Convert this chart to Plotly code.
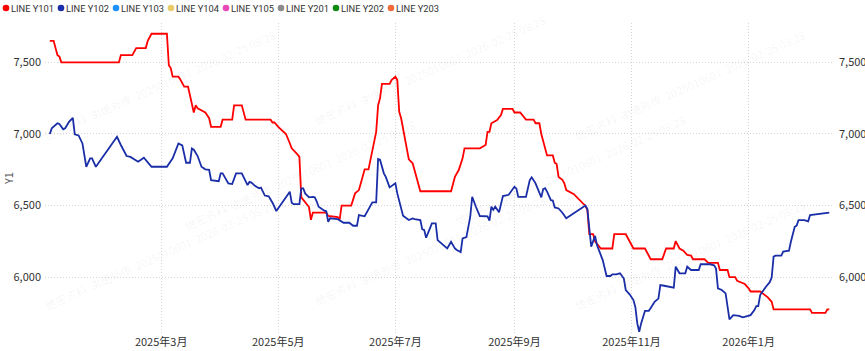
import plotly.graph_objects as go

# ---------------- data ----------------
series_names = ["LINE Y101", "LINE Y102", "LINE Y103", "LINE Y104",
                "LINE Y105", "LINE Y201", "LINE Y202", "LINE Y203"]
series_colors = ["#ff0000", "#1a2ea8", "#1e90ff", "#e8cc6a",
                 "#e84bb8", "#8c8c8c", "#118a11", "#f06a3a"]

red_dates = [
    "2025-01-02", "2025-01-04", "2025-01-06", "2025-01-07", "2025-01-08", "2025-02-07", "2025-02-08",
    "2025-02-14", "2025-02-16", "2025-02-21", "2025-02-22", "2025-02-24", "2025-03-04", "2025-03-05",
    "2025-03-06", "2025-03-07", "2025-03-10", "2025-03-11", "2025-03-13", "2025-03-15", "2025-03-16",
    "2025-03-17", "2025-03-18", "2025-03-19", "2025-03-20", "2025-03-24", "2025-03-26", "2025-03-27",
    "2025-04-01", "2025-04-02", "2025-04-07", "2025-04-08", "2025-04-12", "2025-04-14", "2025-04-27",
    "2025-04-28", "2025-04-29", "2025-05-01", "2025-05-05", "2025-05-07", "2025-05-08", "2025-05-11",
    "2025-05-12", "2025-05-13", "2025-05-14", "2025-05-16", "2025-05-17", "2025-05-18", "2025-05-19",
    "2025-05-26", "2025-05-27", "2025-06-01", "2025-06-02", "2025-06-03", "2025-06-08", "2025-06-10",
    "2025-06-12", "2025-06-13", "2025-06-15", "2025-06-17", "2025-06-18", "2025-06-21", "2025-06-22",
    "2025-06-23", "2025-06-24", "2025-06-28", "2025-06-29", "2025-07-01", "2025-07-02", "2025-07-03",
    "2025-07-04", "2025-07-07", "2025-07-08", "2025-07-10", "2025-07-12", "2025-07-14", "2025-07-30",
    "2025-08-01", "2025-08-03", "2025-08-05", "2025-08-06", "2025-08-14", "2025-08-17", "2025-08-18",
    "2025-08-19", "2025-08-20", "2025-08-23", "2025-08-25", "2025-08-26", "2025-08-31", "2025-09-01",
    "2025-09-04", "2025-09-07", "2025-09-11", "2025-09-12", "2025-09-14", "2025-09-15", "2025-09-16",
    "2025-09-18", "2025-09-21", "2025-09-22", "2025-09-23", "2025-09-24", "2025-09-26", "2025-09-27",
    "2025-09-28", "2025-10-02", "2025-10-08", "2025-10-09", "2025-10-10", "2025-10-12", "2025-10-13",
    "2025-10-16", "2025-10-22", "2025-10-23", "2025-10-29", "2025-10-31", "2025-11-02", "2025-11-08",
    "2025-11-09", "2025-11-10", "2025-11-11", "2025-11-17", "2025-11-19", "2025-11-23", "2025-11-24",
    "2025-11-26", "2025-11-28", "2025-11-30", "2025-12-02", "2025-12-03", "2025-12-09", "2025-12-11",
    "2025-12-16", "2025-12-17", "2025-12-21", "2025-12-22", "2025-12-25", "2025-12-26", "2025-12-30",
    "2026-01-01", "2026-01-02", "2026-01-07", "2026-01-11", "2026-01-13", "2026-01-14", "2026-02-02",
    "2026-02-03", "2026-02-10", "2026-02-11", "2026-02-12",
]
red_values = [
    7650, 7650, 7550, 7540, 7500, 7500, 7550,
    7550, 7600, 7600, 7650, 7700, 7700, 7480,
    7460, 7400, 7400, 7380, 7330, 7330, 7270,
    7220, 7150, 7200, 7180, 7150, 7110, 7050,
    7050, 7100, 7100, 7200, 7200, 7100, 7100,
    7080, 7080, 7050, 7000, 6935, 6900, 6857,
    6840, 6557, 6540, 6510, 6490, 6400, 6450,
    6450, 6427, 6420, 6404, 6500, 6500, 6585,
    6608, 6655, 6753, 6753, 6818, 7015, 7200,
    7249, 7350, 7350, 7376, 7400, 7376, 7155,
    7110, 6911, 6823, 6795, 6700, 6600, 6600,
    6700, 6748, 6830, 6900, 6900, 6923, 7015,
    7015, 7075, 7097, 7132, 7175, 7175, 7150,
    7150, 7100, 7100, 7075, 7075, 7000, 6950,
    6850, 6850, 6800, 6790, 6700, 6680, 6655,
    6608, 6580, 6497, 6470, 6300, 6300, 6250,
    6200, 6200, 6300, 6300, 6250, 6200, 6200,
    6175, 6150, 6125, 6125, 6200, 6200, 6252,
    6200, 6185, 6155, 6150, 6125, 6125, 6100,
    6100, 6050, 6050, 6000, 6000, 5975, 5952,
    5922, 5900, 5900, 5859, 5828, 5775, 5775,
    5750, 5750, 5775, 5775,
]

blue_dates = [
    "2025-01-02", "2025-01-03", "2025-01-06", "2025-01-07", "2025-01-09", "2025-01-10", "2025-01-12",
    "2025-01-14", "2025-01-15", "2025-01-17", "2025-01-19", "2025-01-20", "2025-01-21", "2025-01-23",
    "2025-01-24", "2025-01-26", "2025-02-06", "2025-02-08", "2025-02-10", "2025-02-11", "2025-02-13",
    "2025-02-17", "2025-02-20", "2025-02-21", "2025-02-24", "2025-03-04", "2025-03-07", "2025-03-10",
    "2025-03-12", "2025-03-14", "2025-03-16", "2025-03-17", "2025-03-18", "2025-03-20", "2025-03-22",
    "2025-03-24", "2025-03-26", "2025-03-27", "2025-03-31", "2025-04-01", "2025-04-02", "2025-04-05",
    "2025-04-07", "2025-04-09", "2025-04-12", "2025-04-15", "2025-04-16", "2025-04-17", "2025-04-19",
    "2025-04-21", "2025-04-22", "2025-04-24", "2025-04-26", "2025-04-28", "2025-04-30", "2025-05-07",
    "2025-05-08", "2025-05-09", "2025-05-12", "2025-05-13", "2025-05-14", "2025-05-15", "2025-05-17",
    "2025-05-19", "2025-05-20", "2025-05-21", "2025-05-22", "2025-05-25", "2025-05-26", "2025-05-27",
    "2025-05-28", "2025-06-01", "2025-06-04", "2025-06-07", "2025-06-09", "2025-06-11", "2025-06-12",
    "2025-06-15", "2025-06-17", "2025-06-19", "2025-06-21", "2025-06-22", "2025-06-23", "2025-06-25",
    "2025-06-26", "2025-06-28", "2025-07-01", "2025-07-02", "2025-07-05", "2025-07-07", "2025-07-08",
    "2025-07-10", "2025-07-11", "2025-07-14", "2025-07-15", "2025-07-16", "2025-07-17", "2025-07-19",
    "2025-07-20", "2025-07-22", "2025-07-23", "2025-07-26", "2025-07-28", "2025-07-30", "2025-08-01",
    "2025-08-02", "2025-08-04", "2025-08-05", "2025-08-07", "2025-08-09", "2025-08-10", "2025-08-12",
    "2025-08-14", "2025-08-18", "2025-08-19", "2025-08-20", "2025-08-21", "2025-08-22", "2025-08-24",
    "2025-08-26", "2025-08-29", "2025-09-01", "2025-09-02", "2025-09-03", "2025-09-07", "2025-09-09",
    "2025-09-10", "2025-09-12", "2025-09-14", "2025-09-15", "2025-09-16", "2025-09-17", "2025-09-18",
    "2025-09-20", "2025-09-21", "2025-09-22", "2025-09-24", "2025-09-26", "2025-09-28", "2025-10-08",
    "2025-10-09", "2025-10-10", "2025-10-11", "2025-10-13", "2025-10-14", "2025-10-17", "2025-10-19",
    "2025-10-21", "2025-10-22", "2025-10-24", "2025-10-26", "2025-10-28", "2025-10-29", "2025-10-31",
    "2025-11-02", "2025-11-03", "2025-11-04", "2025-11-05", "2025-11-06", "2025-11-08", "2025-11-10",
    "2025-11-11", "2025-11-13", "2025-11-15", "2025-11-16", "2025-11-18", "2025-11-23", "2025-11-24",
    "2025-11-26", "2025-11-29", "2025-11-30", "2025-12-02", "2025-12-06", "2025-12-07", "2025-12-12",
    "2025-12-14", "2025-12-15", "2025-12-16", "2025-12-18", "2025-12-20", "2025-12-21", "2025-12-22",
    "2025-12-24", "2025-12-27", "2025-12-29", "2026-01-02", "2026-01-04", "2026-01-05", "2026-01-06",
    "2026-01-07", "2026-01-10", "2026-01-12", "2026-01-13", "2026-01-14", "2026-01-15", "2026-01-18",
    "2026-01-19", "2026-01-22", "2026-01-23", "2026-01-25", "2026-01-26", "2026-01-27", "2026-01-30",
    "2026-02-01", "2026-02-02", "2026-02-08", "2026-02-12",
]
blue_values = [
    7000, 7039, 7074, 7070, 7032, 7040, 7085,
    7113, 6997, 6990, 6934, 6865, 6771, 6830,
    6830, 6771, 6980, 6923, 6865, 6846, 6840,
    6806, 6834, 6820, 6771, 6771, 6830, 6934,
    6920, 6799, 6799, 6899, 6890, 6846, 6771,
    6753, 6750, 6678, 6670, 6725, 6725, 6655,
    6650, 6725, 6725, 6643, 6665, 6660, 6636,
    6620, 6625, 6570, 6565, 6520, 6462, 6597,
    6520, 6510, 6510, 6620, 6620, 6585, 6557,
    6560, 6557, 6530, 6492, 6464, 6460, 6387,
    6411, 6405, 6380, 6380, 6359, 6359, 6434,
    6425, 6469, 6522, 6522, 6825, 6820, 6725,
    6700, 6627, 6655, 6585, 6429, 6410, 6399,
    6410, 6405, 6399, 6334, 6330, 6275, 6341,
    6376, 6376, 6259, 6224, 6201, 6247, 6201,
    6190, 6175, 6271, 6280, 6422, 6561, 6490,
    6427, 6425, 6394, 6492, 6470, 6492, 6453,
    6566, 6575, 6631, 6620, 6561, 6561, 6678,
    6697, 6655, 6597, 6557, 6615, 6622, 6597,
    6538, 6535, 6487, 6480, 6450, 6411, 6500,
    6475, 6329, 6213, 6288, 6224, 6119, 6008,
    6008, 6020, 6020, 6027, 5990, 5910, 5880,
    5840, 5790, 5677, 5619, 5677, 5765, 5765,
    5785, 5828, 5850, 5945, 5940, 5926, 6073,
    6027, 6027, 6073, 6050, 6050, 6090, 6090,
    6083, 6060, 5922, 5910, 5887, 5790, 5705,
    5735, 5730, 5719, 5735, 5770, 5798, 5798,
    5875, 5933, 5965, 5998, 6143, 6150, 6150,
    6178, 6185, 6247, 6352, 6360, 6399, 6399,
    6390, 6434, 6446, 6450,
]

x_tick_vals = ["2025-03-01", "2025-05-01", "2025-07-01", "2025-09-01", "2025-11-01", "2026-01-01"]
x_tick_text = ["2025年3月", "2025年5月", "2025年7月", "2025年9月", "2025年11月", "2026年1月"]
y_tick_vals = [6000, 6500, 7000, 7500]

watermark_text = "绝密资料  谢绝外传  2025010601  2026-02-25 08:28"

# ---------------- figure ----------------
W, H = 865, 351
ML, MR, MT, MB = 45, 33, 23, 18
PW, PH = W - ML - MR, H - MT - MB


def px_to_paper_x(px):
    return (px - ML) / PW


def px_to_paper_y(py):
    return (H - MB - py) / PH


fig = go.Figure()
fig.add_trace(go.Scatter(x=red_dates, y=red_values, mode="lines", name=series_names[0],
                         line=dict(color=series_colors[0], width=1.8), showlegend=False))
fig.add_trace(go.Scatter(x=blue_dates, y=blue_values, mode="lines", name=series_names[1],
                         line=dict(color=series_colors[1], width=1.8), showlegend=False,
                         yaxis="y2"))

font_fam = "Noto Sans CJK SC, Noto Sans, sans-serif"
grid_col = "#d6d6d6"
yrange = [5610, 7775]

fig.update_layout(
    width=W, height=H,
    margin=dict(l=ML, r=MR, t=MT, b=MB, pad=0, autoexpand=False),
    paper_bgcolor="white", plot_bgcolor="white",
    showlegend=False,
    font=dict(family=font_fam, size=11, color="#333333"),
    xaxis=dict(
        type="date", automargin=False,
        range=["2024-12-30 12:00", "2026-02-13 10:00"],
        tickvals=x_tick_vals, ticktext=x_tick_text,
        showgrid=True, gridcolor=grid_col, griddash="1px,2px", gridwidth=1,
        showline=False, zeroline=False, ticks="", ticklabelstandoff=1,
        tickfont=dict(size=11, color="#333333"),
    ),
    yaxis=dict(
        range=yrange, tickvals=y_tick_vals, tickformat=",", automargin=False,
        showgrid=True, gridcolor=grid_col, griddash="1px,2px", gridwidth=1,
        showline=False, zeroline=False, ticks="", ticklabelstandoff=3,
        title=dict(text="Y1", font=dict(size=11, color="#555555"), standoff=2),
        tickfont=dict(size=11, color="#333333"),
    ),
    yaxis2=dict(
        range=yrange, tickvals=y_tick_vals, tickformat=",", automargin=False,
        overlaying="y", side="right", showgrid=False,
        showline=False, zeroline=False, ticks="", ticklabelstandoff=6,
        tickfont=dict(size=11, color="#333333"),
    ),
)

# legend drawn along the top: a coloured dot and the series name
legend_dot_px = [6, 61, 116, 171, 226, 281, 336, 391]
legend_y_px = 8
for name, col, px in zip(series_names, series_colors, legend_dot_px):
    fig.add_shape(
        type="circle", xref="paper", yref="paper",
        xsizemode="pixel", ysizemode="pixel",
        xanchor=px_to_paper_x(px), yanchor=px_to_paper_y(legend_y_px),
        x0=-3.3, x1=3.3, y0=-3.3, y1=3.3,
        fillcolor=col, line=dict(width=0),
    )
    fig.add_annotation(
        xref="paper", yref="paper",
        x=px_to_paper_x(px + 2.5), y=px_to_paper_y(legend_y_px),
        xanchor="left", yanchor="middle", showarrow=False,
        text=name, font=dict(size=9.3, family="Roboto, Noto Sans, sans-serif", color="#333333"),
    )

# faint diagonal watermark
wm_positions = [(160, 85), (430, 70), (690, 85),
                (300, 175), (570, 170),
                (160, 255), (430, 250), (690, 255)]
for (px, py) in wm_positions:
    fig.add_annotation(
        xref="paper", yref="paper",
        x=px_to_paper_x(px), y=px_to_paper_y(py),
        xanchor="center", yanchor="middle", showarrow=False,
        text=watermark_text, textangle=-24,
        font=dict(size=11, family=font_fam, color="rgba(0,0,0,0.055)"),
    )

fig.write_html("out.html")
